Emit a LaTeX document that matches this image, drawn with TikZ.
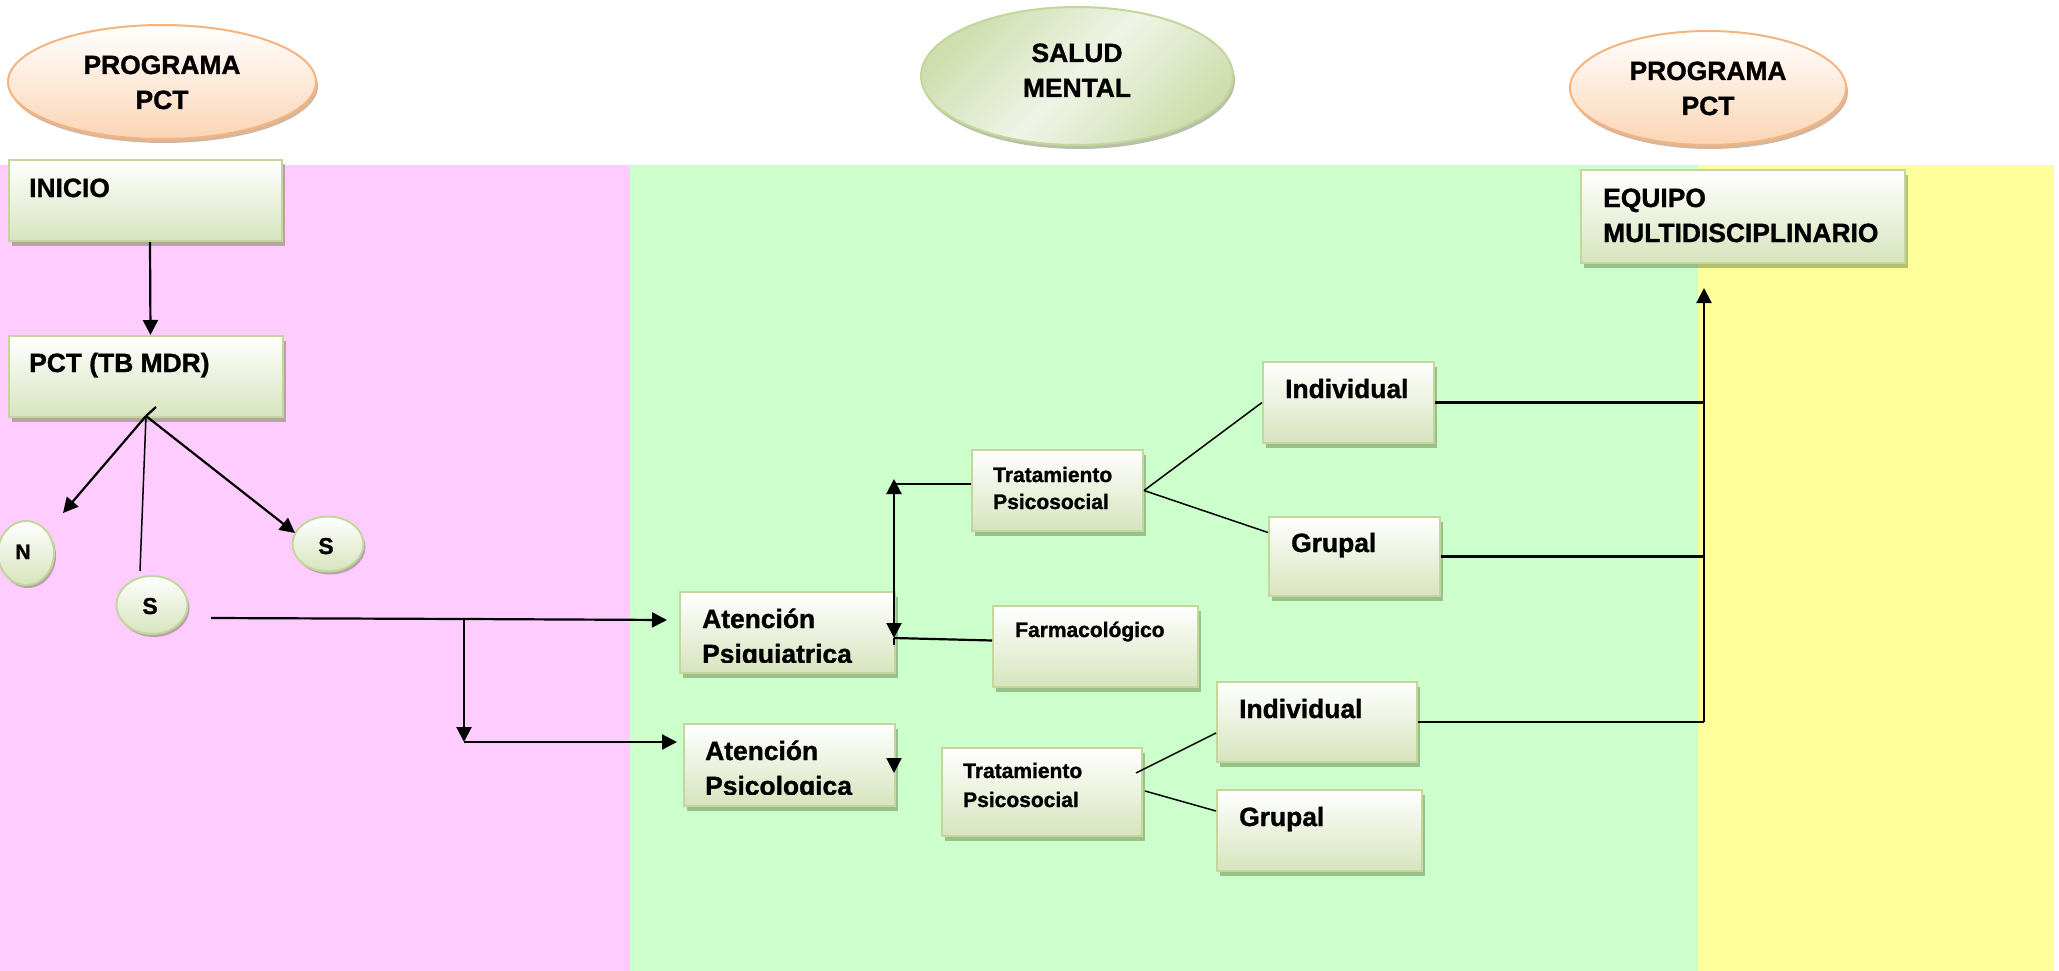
\documentclass[tikz,border=0pt]{standalone}
\usepackage{fontspec}
\setmainfont{Liberation Sans}[BoldFeatures={FakeBold=1.2}]
\usetikzlibrary{arrows.meta,shapes.geometric,shadows}
\definecolor{pinkbg}{HTML}{FFCCFF}
\definecolor{greenbg}{HTML}{CCFFCC}
\definecolor{yellowbg}{HTML}{FFFF99}
\definecolor{boxborder}{HTML}{C3D69B}
\definecolor{boxbot}{HTML}{D7E4BD}
\definecolor{shadowg}{HTML}{4F6228}
\definecolor{peachfill}{HTML}{FBD5B5}
\definecolor{peachborder}{HTML}{F5B47E}
\definecolor{peachshadow}{HTML}{984807}
\definecolor{saludin}{HTML}{EFF4E6}
\definecolor{saludout}{HTML}{CEDEAE}
\begin{document}
\begin{tikzpicture}[x=1pt,y=-1pt,
  big/.style={font=\fontsize{26.4}{35}\selectfont\bfseries, inner sep=0pt, anchor=base west},
  bigc/.style={font=\fontsize{26.4}{35}\selectfont\bfseries, inner sep=0pt, anchor=base},
  mid/.style={font=\fontsize{21}{27}\selectfont\bfseries, inner sep=0pt, anchor=base west},
  boxnode/.style={rectangle, draw=boxborder, line width=2pt, top color=white, bottom color=boxbot, inner sep=0pt,
    drop shadow={shadow xshift=3pt, shadow yshift=-4.5pt, fill=shadowg, opacity=0.4}},
  bubble/.style={ellipse, draw=boxborder, line width=2pt, top color=white, bottom color=boxbot, inner sep=0pt,
    drop shadow={shadow xshift=2pt, shadow yshift=-3pt, fill=shadowg, opacity=0.4}},
  peach/.style={ellipse, draw=peachborder, line width=2pt, top color=white, bottom color=peachfill, inner sep=0pt,
    drop shadow={shadow xshift=2pt, shadow yshift=-4pt, fill=peachshadow, opacity=0.4}},
  saludstyle/.style={ellipse, draw=boxborder, line width=2pt, left color=saludout, right color=saludout, middle color=saludin, shading angle=45, inner sep=0pt,
    drop shadow={shadow xshift=2pt, shadow yshift=-4pt, fill=shadowg, opacity=0.4}},
  thk/.style={line width=2.2pt},
  thn/.style={line width=1.5pt},
  arr/.style={line width=2.2pt, -{Triangle[width=15pt,length=15pt]}},
]
\useasboundingbox (0,0) rectangle (2059,971);
% background bands
\fill[pinkbg] (0,165) rectangle (630,971);
\fill[greenbg] (630,165) rectangle (1698,971);
\fill[yellowbg] (1698,165) rectangle (2054,971);

% header ellipses
\node[peach, minimum width=308pt, minimum height=114pt] (prog1) at (162,82) {};
\node[bigc] at (162,74) {PROGRAMA};
\node[bigc] at (162,109) {PCT};
\node[saludstyle, minimum width=312pt, minimum height=138pt] (salud) at (1077,76) {};
\node[bigc] at (1077,62) {SALUD};
\node[bigc] at (1077,97) {MENTAL};
\node[peach, minimum width=276pt, minimum height=114pt] (prog2) at (1708,88) {};
\node[bigc] at (1708,80) {PROGRAMA};
\node[bigc] at (1708,115) {PCT};

% boxes
\node[boxnode, minimum width=273pt, minimum height=81pt] (inicio) at (145.5,200.5) {};
\node[big] at (29,197) {INICIO};
\node[boxnode, minimum width=274pt, minimum height=81pt] (pct) at (146,376.5) {};
\node[big] at (29,372) {PCT (TB MDR)};

\node[bubble, minimum width=56pt, minimum height=64pt] (ncirc) at (26,553) {};
\node[font=\fontsize{21}{24}\selectfont\bfseries, inner sep=0pt, anchor=base] at (23,559) {N};
\node[bubble, minimum width=71pt, minimum height=58pt] (s1) at (152,605) {};
\node[font=\fontsize{23}{26}\selectfont\bfseries, inner sep=0pt, anchor=base] at (150,614) {S};
\node[bubble, minimum width=71pt, minimum height=55pt] (s2) at (328,544) {};
\node[font=\fontsize{23}{26}\selectfont\bfseries, inner sep=0pt, anchor=base] at (326,554) {S};

\node[boxnode, minimum width=215pt, minimum height=81pt] (psiq) at (787.5,632.5) {};
\node[big] at (702,628) {Atención};
\begin{scope}
  \clip (psiq.north west) rectangle ([yshift=12pt]psiq.south east);
  \node[big] at (702,663) {Psiquiatrica};
\end{scope}
\node[boxnode, minimum width=211pt, minimum height=82pt] (psico) at (789.5,765) {};
\node[big] at (705,760) {Atención};
\begin{scope}
  \clip (psico.north west) rectangle ([yshift=13pt]psico.south east);
  \node[big] at (705,795) {Psicologica};
\end{scope}

\node[boxnode, minimum width=171pt, minimum height=81pt] (trat1) at (1057.5,490.5) {};
\node[mid] at (993,482) {Tratamiento};
\node[mid] at (993,509) {Psicosocial};
\node[boxnode, minimum width=205pt, minimum height=81pt] (farm) at (1095.5,646.5) {};
\node[mid] at (1015,637) {Farmacológico};
\node[boxnode, minimum width=200pt, minimum height=88pt] (trat2) at (1042,792) {};
\node[mid] at (963,778) {Tratamiento};
\node[mid] at (963,807) {Psicosocial};

\node[boxnode, minimum width=171pt, minimum height=81pt] (ind1) at (1348.5,402.5) {};
\node[big] at (1285,398) {Individual};
\node[boxnode, minimum width=171pt, minimum height=79pt] (grup1) at (1354.5,556.5) {};
\node[big] at (1291,552) {Grupal};
\node[boxnode, minimum width=200pt, minimum height=80pt] (ind2) at (1317,722) {};
\node[big] at (1239,718) {Individual};
\node[boxnode, minimum width=205pt, minimum height=81pt] (grup2) at (1319.5,830.5) {};
\node[big] at (1239,826) {Grupal};

\node[boxnode, minimum width=324pt, minimum height=93pt] (equipo) at (1743,216.5) {};
\node[big] at (1603,207) {EQUIPO};
\node[big] at (1603,242) {MULTIDISCIPLINARIO};

% connectors
\draw[arr] ([xshift=4.5pt]inicio.south) -- ([xshift=4.5pt]pct.north);

\coordinate (fan) at (146,416);
\coordinate (tick) at (156,407);
\coordinate (ntip) at (63,513);
\coordinate (s2tip) at (295,533);
\coordinate (s1top) at (140,571);
\draw[thk] (fan) -- (tick);
\draw[arr] (fan) -- (ntip);
\draw[arr] (fan) -- (s2tip);
\draw[thn] (fan) -- (s1top);

\coordinate (sout) at (211,618);
\coordinate (jn) at (464,619);
\coordinate (jb) at (464,742);
\draw[thk] (sout) -- (jn);
\draw[arr] (jn) -- ([xshift=-12pt,yshift=12.5pt]psiq.west);
\draw[arr] (jn) -- (jb);
\draw[arr] (jb) -- ([xshift=-6pt]psico.west |- jb);

\coordinate (vt) at (894,479);
\coordinate (vb) at (894,638);
\coordinate (tw) at ([yshift=6.5pt]trat1.west);
\coordinate (fw) at ([yshift=6pt]farm.west);
\draw[thk, {Triangle[width=15pt,length=15pt]}-{Triangle[width=15pt,length=15pt]}] (vt) -- (vb);
\draw[thk] (vb) -- ++(0,7);
\draw[thk] (tw) -- (vt |- tw);
\draw[thk] (fw) -- (vb);
\coordinate (pa) at (894,758);
\coordinate (pb) at (894,773);
\draw[arr] (pa) -- (pb);

\draw[thn] (trat1.east) -- (ind1.west);
\draw[thn] (trat1.east) -- ([yshift=24pt]grup1.west);
\draw[thn] ([xshift=-7pt,yshift=19pt]trat2.east) -- ([yshift=-11pt]ind2.west);
\draw[thn] ([xshift=2pt,yshift=1pt]trat2.east) -- ([yshift=19.5pt]grup2.west);

\coordinate (bus) at (1704,722);
\coordinate (bustop) at (1704,288);
\draw[thk] (ind2.east) -- (bus);
\draw[arr] (bus) -- (bustop);
\draw[thk] (ind1.east) -- (ind1.east -| bus);
\draw[thk] (grup1.east) -- (grup1.east -| bus);
\end{tikzpicture}
\end{document}
